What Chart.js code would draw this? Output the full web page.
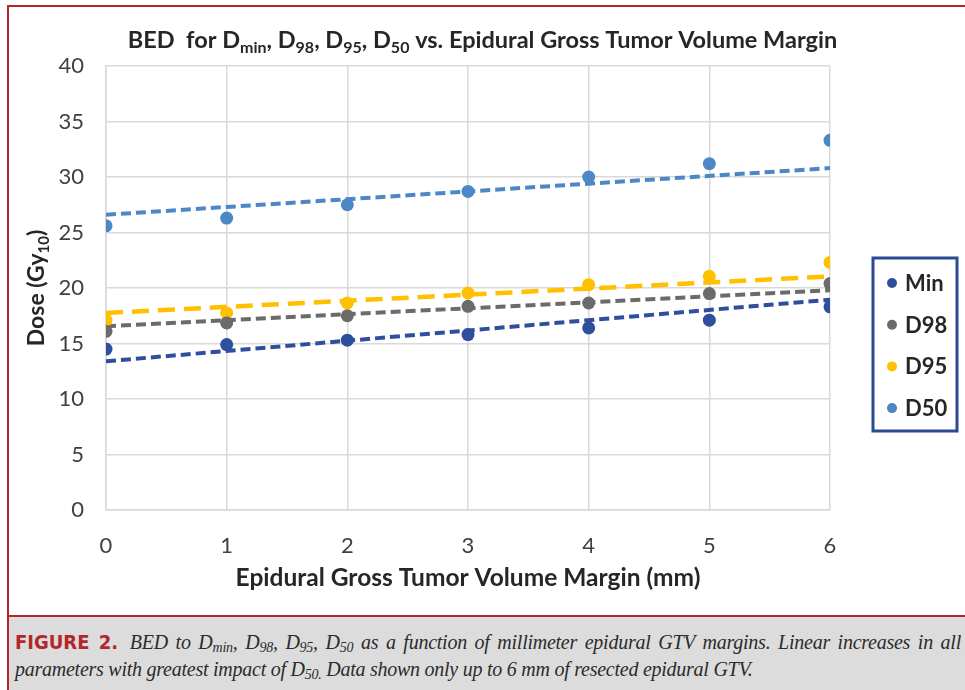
<!DOCTYPE html>
<html>
<head>
<meta charset="utf-8">
<script src="https://cdn.jsdelivr.net/npm/chart.js@4.4.0/dist/chart.umd.min.js"></script>
<style>
  html, body { margin: 0; padding: 0; background: #fff; }
  body { width: 965px; height: 690px; position: relative; overflow: hidden; }
  #bedChart { position: absolute; left: 0; top: 0; }
  .frame {
    position: absolute; left: 7px; top: 5px; width: 980px; height: 700px;
    border-left: 2px solid #b3262b; border-top: 2px solid #b3262b;
    pointer-events: none;
  }
  .caption {
    position: absolute; left: 9px; top: 615px; width: 956px; height: 80px;
    background: #dcdcdc; border-top: 2px solid #b3262b;
    font-family: "Liberation Serif", serif; font-style: italic; font-size: 20px;
    letter-spacing: -0.25px;
    color: #2b2b2b; box-sizing: border-box; padding: 12px 4px 0 6px;
  }
  .caption .line1 { text-align: justify; text-align-last: justify; line-height: 27px; white-space: nowrap; }
  .caption .line2 { line-height: 27px; }
  .caption b {
    font-family: "Liberation Sans Narrow", "DejaVu Sans Condensed", sans-serif;
    font-style: normal; font-weight: bold; color: #b3262b; margin-right: 4px;
    letter-spacing: 0;
  }
  .caption sub { font-size: 70%; vertical-align: -3px; line-height: 0; }
</style>
</head>
<body>
<canvas id="bedChart" width="965" height="615"></canvas>
<div class="frame"></div>
<div class="caption">
  <div class="line1"><b>FIGURE 2.</b> BED to D<sub>min</sub>, D<sub>98</sub>, D<sub>95</sub>, D<sub>50</sub> as a function of millimeter epidural GTV margins. Linear increases in all</div>
  <div class="line2">parameters with greatest impact of D<sub>50.</sub> Data shown only up to 6 mm of resected epidural GTV.</div>
</div>
<script>
// epidural GTV margin (mm)
const margins = [0, 1, 2, 3, 4, 5, 6];
// BED (Gy10)
const minDose = [14.5, 14.9, 15.3, 15.8, 16.4, 17.1, 18.3];
const d98Dose = [16.1, 16.85, 17.5, 18.35, 18.65, 19.5, 20.4];
const d95Dose = [17.1, 17.75, 18.65, 19.55, 20.3, 21.05, 22.3];
const d50Dose = [25.6, 26.3, 27.5, 28.7, 30.0, 31.2, 33.3];

// dashed trend lines, values at 0 mm and 6 mm
const trendX = [0, 6];
const minTrend = [13.4, 18.95];
const d98Trend = [16.55, 19.8];
const d95Trend = [17.75, 21.05];
const d50Trend = [26.6, 30.8];

const seriesNames = ["Min", "D98", "D95", "D50"];
const seriesColors = ["#2f4f9e", "#6b6b6b", "#ffc000", "#4b88c5"];
const yTicks = [0, 5, 10, 15, 20, 25, 30, 35, 40];

const FONT = "Lato, 'Open Sans', sans-serif";

const toPoints = (xs, ys) => xs.map((x, i) => ({ x: x, y: ys[i] }));

const pointSets = [minDose, d98Dose, d95Dose, d50Dose].map((vals, i) => ({
  label: seriesNames[i],
  data: toPoints(margins, vals),
  backgroundColor: seriesColors[i],
  borderColor: seriesColors[i],
  borderWidth: 0,
  pointRadius: 6.5,
  pointHoverRadius: 6.5,
  showLine: false,
  order: 0,
}));

const trendSets = [minTrend, d98Trend, d95Trend, d50Trend].map((vals, i) => ({
  label: seriesNames[i] + " trend",
  trend: true,
  data: toPoints(trendX, vals),
  borderColor: seriesColors[i],
  backgroundColor: seriesColors[i],
  borderWidth: i === 2 ? 4.5 : 4,
  borderDash: i === 2 ? [17, 9] : [10, 5],
  pointRadius: 0,
  showLine: true,
  order: 1,
}));

// text with subscripts (title, y axis title)
function drawRich(ctx, parts, x, y, size, color) {
  const big = `bold ${size}px ${FONT}`;
  const small = `bold ${Math.round(size * 0.66)}px ${FONT}`;
  let total = 0;
  parts.forEach((p) => {
    ctx.font = p[1] ? small : big;
    total += ctx.measureText(p[0]).width;
  });
  let cx = x - total / 2;
  ctx.fillStyle = color;
  ctx.textAlign = "left";
  ctx.textBaseline = "alphabetic";
  parts.forEach((p) => {
    ctx.font = p[1] ? small : big;
    ctx.fillText(p[0], cx, p[1] ? y + size * 0.22 : y);
    cx += ctx.measureText(p[0]).width;
  });
}

const titleParts = [
  ["BED  for D"], ["min", true], [", D"], ["98", true], [", D"], ["95", true],
  [", D"], ["50", true], [" vs. Epidural Gross Tumor Volume Margin"],
];
const yTitleParts = [["Dose (Gy"], ["10", true], [")"]];

const richText = {
  id: "richText",
  afterDraw(chart) {
    const ctx = chart.ctx;
    const area = chart.chartArea;
    ctx.save();
    drawRich(ctx, titleParts, chart.width / 2, 48, 23.5, "#262626");
    ctx.translate(36, (area.top + area.bottom) / 2);
    ctx.rotate(-Math.PI / 2);
    drawRich(ctx, yTitleParts, 0, 8, 23, "#262626");
    ctx.restore();
  },
};

// boxed legend on the right, built from the point datasets
const boxedLegend = {
  id: "boxedLegend",
  afterDraw(chart) {
    const ctx = chart.ctx;
    const area = chart.chartArea;
    const left = area.right + 43;
    const top = 258;
    const w = 84;
    const h = 173;
    ctx.save();
    ctx.lineWidth = 3;
    ctx.strokeStyle = "#2b4a94";
    ctx.strokeRect(left, top, w, h);
    const sets = chart.data.datasets.filter((d) => !d.trend);
    sets.forEach((d, i) => {
      const cy = top + 25 + i * 41.7;
      ctx.fillStyle = d.backgroundColor;
      ctx.beginPath();
      ctx.arc(left + 19, cy, 5, 0, Math.PI * 2);
      ctx.fill();
      ctx.fillStyle = "#262626";
      ctx.font = `bold 22px ${FONT}`;
      ctx.textBaseline = "middle";
      ctx.textAlign = "left";
      ctx.fillText(d.label, left + 32, cy + 1);
    });
    ctx.restore();
  },
};

const canvas = document.getElementById("bedChart");

new Chart(canvas, {
  type: "scatter",
  data: { datasets: pointSets.concat(trendSets) },
  options: {
    responsive: false,
    animation: false,
    layout: { padding: { top: 66, right: 135, bottom: 0, left: 0 } },
    plugins: {
      legend: { display: false },
      tooltip: { enabled: false },
      title: { display: false },
    },
    scales: {
      x: {
        type: "linear",
        min: 0,
        max: 6,
        afterFit: (s) => { s.height = 105; },
        ticks: {
          stepSize: 1,
          padding: 23,
          color: "#404040",
          font: { family: FONT, size: 22 },
        },
        grid: { color: "#d9d9d9", lineWidth: 1.5, drawTicks: false },
        border: { color: "#d9d9d9", width: 1.5 },
        title: {
          display: true,
          text: "Epidural Gross Tumor Volume Margin (mm)",
          color: "#262626",
          font: { family: FONT, size: 24.5, weight: "bold" },
          padding: { top: 4, bottom: 22 },
        },
      },
      y: {
        min: 0,
        max: 40,
        afterFit: (s) => { s.width = 106; },
        afterBuildTicks: (s) => { s.ticks = yTicks.map((v) => ({ value: v })); },
        ticks: {
          padding: 22,
          color: "#404040",
          font: { family: FONT, size: 22 },
        },
        grid: { color: "#d9d9d9", lineWidth: 1.5, drawTicks: false },
        border: { color: "#d9d9d9", width: 1.5 },
      },
    },
  },
  plugins: [richText, boxedLegend],
});
</script>
</body>
</html>
